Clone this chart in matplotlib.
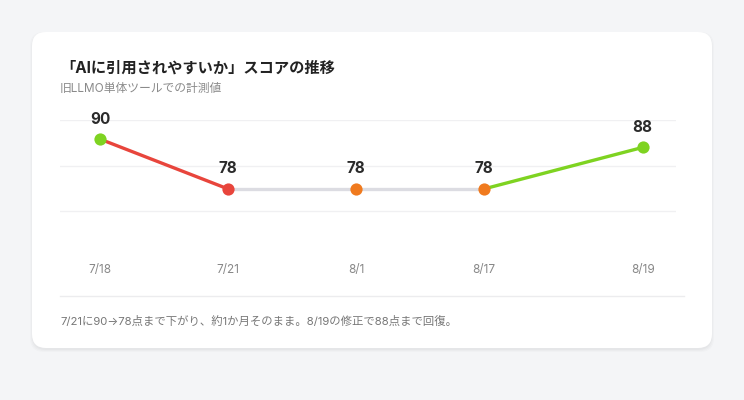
import matplotlib.pyplot as plt
from matplotlib.patches import FancyBboxPatch

plt.rcParams['font.family'] = ['Inter', 'Noto Sans CJK JP', 'DejaVu Sans']

# データ
dates = ["7/18", "7/21", "8/1", "8/17", "8/19"]
x_pos = [0, 1, 2, 3, 4.24]
scores = [90, 78, 78, 78, 88]
point_colors = ["#7ed321", "#e8453c", "#f07a1e", "#f07a1e", "#7ed321"]
seg_colors = ["#e8453c", "#dcdce2", "#dcdce2", "#7ed321"]
grid_vals = [94.6, 83.6, 72.6]

W, H = 744, 400
fig = plt.figure(figsize=(W / 100, H / 100), dpi=100)
fig.patch.set_facecolor("#f4f5f7")

# カード(影つき)
for i, a in enumerate([0.025, 0.02, 0.015]):
    sh = FancyBboxPatch((32 - i, H - 348 - 2 - i), 680 + 2 * i, 316 + 2 * i,
                        boxstyle="round,pad=0,rounding_size=14",
                        transform=None, facecolor="#000000", alpha=a,
                        edgecolor="none", zorder=0)
    fig.patches.append(sh)
card = FancyBboxPatch((32, H - 348), 680, 316,
                      boxstyle="round,pad=0,rounding_size=14",
                      transform=None, facecolor="white", edgecolor="none", zorder=1)
fig.patches.append(card)

ax = fig.add_axes([60 / W, 1 - 257 / H, 616 / W, 137 / H])
ax.set_facecolor("none")
ax.set_zorder(2)
ax.set_xlim(-40 / 128, 576 / 128)
ax.set_ylim(61.6, 94.6)

for g in grid_vals:
    ax.axhline(g, color="#f0f0f2", lw=1, zorder=1)

for i in range(len(scores) - 1):
    ax.plot(x_pos[i:i + 2], scores[i:i + 2], color=seg_colors[i], lw=2.4,
            solid_capstyle="round", zorder=2)

for x, y, c in zip(x_pos, scores, point_colors):
    ax.plot(x, y, "o", color=c, markersize=8.8, markeredgewidth=0, zorder=3)
    ax.annotate(str(y), (x, y), xytext=(0, 20), textcoords="offset pixels",
                ha="center", va="center", fontsize=11, fontweight="bold",
                color="#2a2a2a", zorder=4)

ax.set_xticks(x_pos)
ax.set_xticklabels(dates, fontsize=8.5, color="#888888")
ax.tick_params(axis="x", length=0, pad=5)
ax.set_yticks([])
for s in ax.spines.values():
    s.set_visible(False)

# テキスト
fig.text(60 / W, 1 - 68 / H, "「AIに引用されやすいか」スコアの推移", fontsize=11,
         fontweight="bold", color="#222222", va="center", zorder=3)
fig.text(60 / W, 1 - 89 / H, "旧LLMO単体ツールでの計測値", fontsize=8.5,
         color="#8a8a8a", va="center", zorder=3)
fig.add_artist(plt.Line2D([60 / W, 684 / W], [1 - 296 / H, 1 - 296 / H],
                          color="#ececee", lw=1, zorder=3))
fig.text(60 / W, 1 - 321 / H,
         "7/21に90→78点まで下がり、約1か月そのまま。8/19の修正で88点まで回復。",
         fontsize=8.2, color="#777777", va="center", zorder=3)

fig.savefig("out.png", dpi=100, facecolor=fig.get_facecolor())
